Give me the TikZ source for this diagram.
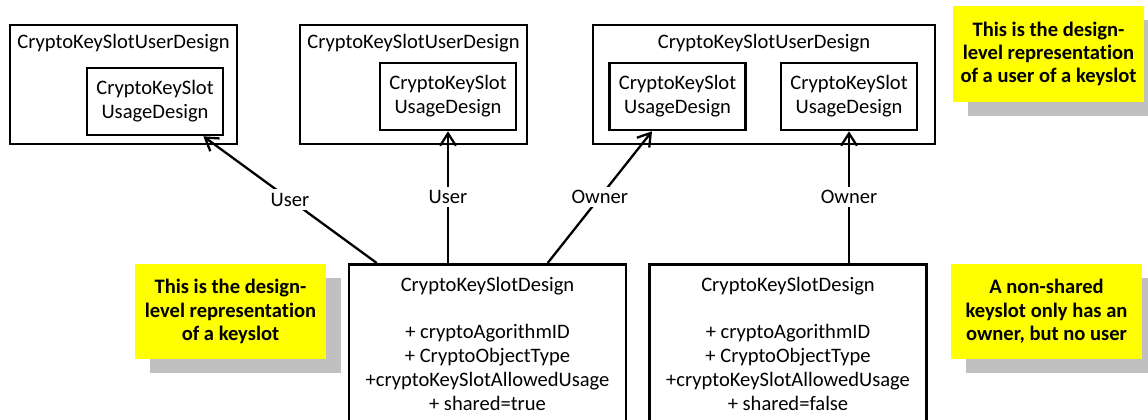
\documentclass[tikz,border=0pt]{standalone}
\usepackage{fontspec}
\setmainfont{Carlito}[Ligatures=NoCommon]
\usetikzlibrary{positioning,arrows.meta,shadows}
\definecolor{NoteYellow}{HTML}{FFFF00}
\definecolor{NoteShadow}{HTML}{C0C0C0}

\begin{document}
\begin{tikzpicture}[
    x=0.02cm, y=-0.02cm,
    font=\fontsize{11.7}{13.6}\selectfont,
    outerbox/.style={draw, line width=1.5pt, inner sep=0pt,
      minimum width=#1, minimum height=2.38cm},
    usagebox/.style={draw, line width=1.5pt, align=center,
      minimum width=2.72cm, minimum height=1.34cm},
    classbox/.style={draw, line width=1.5pt, align=center, anchor=north,
      minimum width=5.54cm, inner ysep=0.25cm},
    note/.style={fill=NoteYellow, align=center,
      minimum width=3.82cm, minimum height=1.92cm,
      font=\fontsize{11.7}{13.3}\selectfont\bfseries,
      general shadow={fill=NoteShadow, shadow xshift=0.3cm, shadow yshift=-0.28cm}},
    assoc/.style={line width=1.3pt,
      -{Straight Barb[length=7pt,width=9pt,line width=1.3pt]}},
    rolelabel/.style={fill=white, inner sep=2pt}
  ]
  \useasboundingbox (0,0) rectangle (1148,419);
  \clip (0,0) rectangle (1148,419);

  % user designs
  \node[outerbox=4.54cm] (u1) at (123.5,84.5) {};
  \node (u1t) at (123.5,43) {CryptoKeySlotUserDesign};
  \node[usagebox] (u1in) at (155,101.5) {CryptoKeySlot\\UsageDesign};

  \node[outerbox=4.54cm] (u2) at (413.5,84.5) {};
  \node (u2t) at (413.5,43) {CryptoKeySlotUserDesign};
  \node[usagebox] (u2in) at (448,96.5) {CryptoKeySlot\\UsageDesign};

  \node[outerbox=6.84cm] (u3) at (764,84.5) {};
  \node (u3t) at (764,43) {CryptoKeySlotUserDesign};
  \node[usagebox] (u3a) at (677.5,96.5) {CryptoKeySlot\\UsageDesign};
  \node[usagebox] (u3b) at (849,96.5) {CryptoKeySlot\\UsageDesign};

  % keyslot designs
  \node[classbox] (ksA) at (487.5,263) {CryptoKeySlotDesign\\[13.6pt]
    + cryptoAgorithmID\\+ CryptoObjectType\\+cryptoKeySlotAllowedUsage\\+ shared=true};
  \node[classbox] (ksB) at (788,263) {CryptoKeySlotDesign\\[13.6pt]
    + cryptoAgorithmID\\+ CryptoObjectType\\+cryptoKeySlotAllowedUsage\\+ shared=false};

  % notes
  \node[note] (n1) at (1048.5,54) {This is the design-\\level representation\\of a user of a keyslot};
  \node[note] (n2) at (230.5,311.5) {This is the design-\\level representation\\of a keyslot};
  \node[note] (n3) at (1046.5,311.5) {A non-shared\\keyslot only has an\\owner, but no user};

  % roles
  \draw[assoc] ([xshift=0.58cm]ksA.north west) -- node[rolelabel] {User} ([xshift=-0.42cm]u1in.south east);
  \draw[assoc] (u2in.south |- ksA.north) -- node[rolelabel] {User} (u2in.south);
  \draw[assoc] ([xshift=4cm]ksA.north west) -- node[rolelabel] {Owner} ([xshift=-0.51cm]u3a.south);
  \draw[assoc] (u3b.south |- ksB.north) -- node[rolelabel] {Owner} (u3b.south);
\end{tikzpicture}
\end{document}
